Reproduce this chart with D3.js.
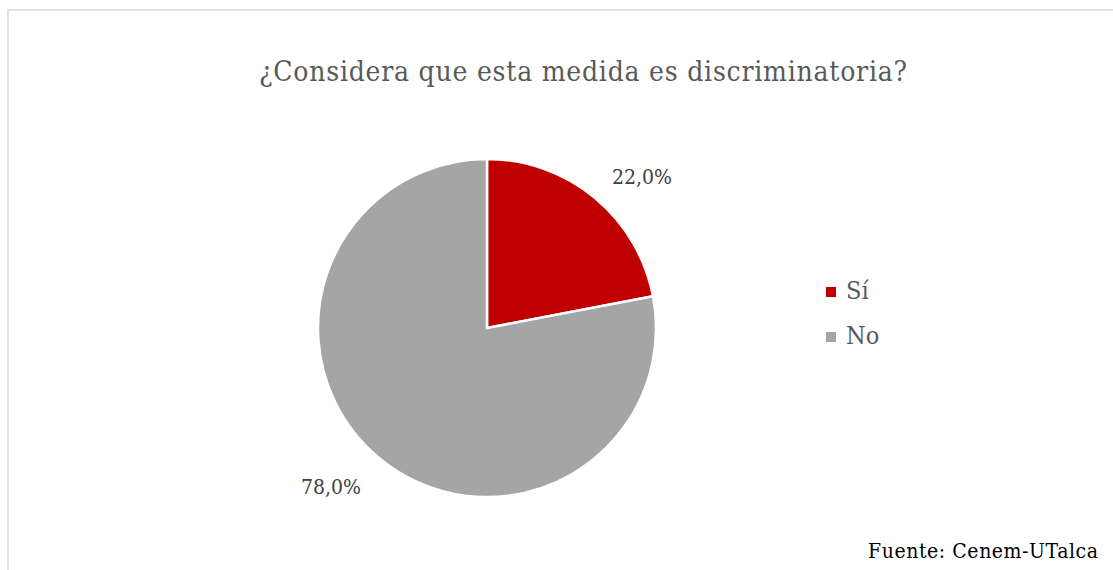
<!DOCTYPE html>
<html>
<head>
<meta charset="utf-8">
<script src="https://cdn.jsdelivr.net/npm/d3@7"></script>
<style>
  body { margin: 0; background: #fff; }
  svg text { font-family: "DejaVu Serif Condensed", "DejaVu Serif", serif; }
</style>
</head>
<body>
<svg id="chart" width="1113" height="570"></svg>
<script>
const categories = ['Sí', 'No'];
const values = [22.0, 78.0];
const valueLabels = ['22,0%', '78,0%'];
const colors = ['#C00000', '#A5A5A5'];
const chartTitle = '¿Considera que esta medida es discriminatoria?';
const sourceNote = 'Fuente: Cenem-UTalca';

const svg = d3.select('#chart');

// frame of the chart area (right/bottom fall outside the picture)
svg.append('rect')
  .attr('x', 8).attr('y', 10)
  .attr('width', 1120).attr('height', 580)
  .attr('fill', 'none')
  .attr('stroke', '#d9d9d9')
  .attr('stroke-width', 1.5);

svg.append('text')
  .attr('x', 583).attr('y', 81)
  .attr('text-anchor', 'middle')
  .attr('font-size', 28)
  .attr('textLength', 648)
  .attr('fill', '#595959')
  .text(chartTitle);

const pieData = categories.map((c, i) => ({ cat: c, value: values[i], label: valueLabels[i], color: colors[i] }));

const pie = d3.pie().sort(null).value(d => d.value);
const radius = 169;
const arc = d3.arc().innerRadius(0).outerRadius(radius);

const g = svg.append('g').attr('transform', 'translate(487,328)');
const arcs = pie(pieData);

g.selectAll('path')
  .data(arcs)
  .join('path')
  .attr('d', arc)
  .attr('fill', d => d.data.color)
  .attr('stroke', '#fff')
  .attr('stroke-width', 2.5);

// label positions roughly as the office chart places them
const labelOffsets = [[155, -150], [-156, 160]];
g.selectAll('text.lbl')
  .data(arcs)
  .join('text')
  .attr('class', 'lbl')
  .attr('x', (d, i) => labelOffsets[i][0])
  .attr('y', (d, i) => labelOffsets[i][1])
  .attr('text-anchor', 'middle')
  .attr('dominant-baseline', 'middle')
  .attr('font-size', 21)
  .attr('fill', '#404040')
  .text(d => d.data.label);

const legend = svg.append('g').attr('transform', 'translate(826,287)');
const legendY = d3.scalePoint().domain(categories).range([0, 45]);
const items = legend.selectAll('g')
  .data(pieData)
  .join('g')
  .attr('transform', d => `translate(0,${legendY(d.cat)})`);
items.append('rect')
  .attr('width', 10).attr('height', 10)
  .attr('fill', d => d.color);
items.append('text')
  .attr('x', 20).attr('y', 5)
  .attr('dominant-baseline', 'middle')
  .attr('font-size', 25)
  .attr('fill', '#595959')
  .text(d => d.cat);

svg.append('text')
  .attr('x', 1098).attr('y', 558)
  .attr('text-anchor', 'end')
  .attr('font-size', 21)
  .attr('textLength', 230)
  .attr('fill', '#000')
  .text(sourceNote);
</script>
</body>
</html>
